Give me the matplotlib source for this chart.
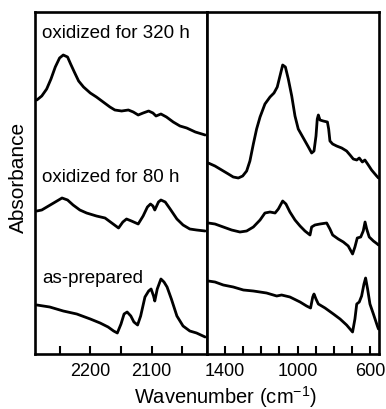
import matplotlib
matplotlib.use("Agg")
import matplotlib.pyplot as plt
from matplotlib.ticker import FixedLocator, NullFormatter

plt.rcParams['font.family'] = ['Liberation Sans', 'DejaVu Sans']
plt.rcParams['mathtext.fontset'] = 'custom'
plt.rcParams['mathtext.rm'] = 'Liberation Sans'
plt.rcParams['mathtext.it'] = 'Liberation Sans'

# Si-H stretching region (left panel), stacked absorbance (a.u.)
wn_hi_320 = [2287, 2279, 2271, 2264, 2257, 2250, 2244, 2237, 2232, 2226, 2219, 2211,
             2200, 2190, 2179, 2168, 2160, 2149, 2138, 2130, 2122, 2114, 2105, 2098,
             2093, 2085, 2076, 2065, 2054, 2043, 2029, 2013]
abs_hi_320 = [2.54, 2.58, 2.65, 2.75, 2.87, 2.96, 2.99, 2.97, 2.90, 2.82, 2.73, 2.67,
              2.61, 2.57, 2.52, 2.47, 2.44, 2.43, 2.44, 2.42, 2.39, 2.41, 2.43, 2.41,
              2.38, 2.40, 2.37, 2.32, 2.28, 2.26, 2.22, 2.19]

wn_hi_80 = [2287, 2279, 2268, 2257, 2246, 2237, 2228, 2217, 2206, 2190, 2176, 2165,
            2154, 2147, 2141, 2133, 2122, 2114, 2107, 2102, 2098, 2095, 2089, 2085,
            2078, 2070, 2059, 2049, 2038, 2027, 2013]
abs_hi_80 = [1.43, 1.44, 1.48, 1.52, 1.56, 1.54, 1.49, 1.44, 1.41, 1.38, 1.36, 1.31,
             1.26, 1.32, 1.35, 1.33, 1.30, 1.38, 1.47, 1.50, 1.48, 1.44, 1.52, 1.54,
             1.52, 1.45, 1.35, 1.29, 1.25, 1.24, 1.23]

wn_hi_0 = [2287, 2266, 2244, 2222, 2200, 2184, 2171, 2162, 2156, 2150, 2145, 2140,
           2134, 2129, 2123, 2118, 2111, 2105, 2101, 2097, 2095, 2091, 2085, 2080,
           2075, 2068, 2059, 2049, 2038, 2027, 2013]
abs_hi_0 = [0.49, 0.47, 0.43, 0.40, 0.35, 0.31, 0.27, 0.23, 0.21, 0.30, 0.40, 0.42,
            0.38, 0.32, 0.29, 0.38, 0.57, 0.63, 0.65, 0.58, 0.53, 0.65, 0.75, 0.72,
            0.67, 0.55, 0.38, 0.28, 0.23, 0.21, 0.17]

# fingerprint region (right panel)
wn_lo_320 = [1493, 1456, 1419, 1382, 1355, 1327, 1303, 1281, 1263, 1244, 1226, 1207,
             1180, 1152, 1130, 1112, 1097, 1082, 1067, 1051, 1032, 1014, 996, 968,
             940, 922, 909, 898, 891, 885, 876, 858, 835, 828, 821, 806, 784, 756,
             729, 710, 692, 673, 659, 642, 628, 609, 591, 563, 553]
abs_lo_320 = [1.91, 1.88, 1.84, 1.80, 1.77, 1.76, 1.78, 1.83, 1.93, 2.10, 2.25, 2.37,
              2.50, 2.57, 2.61, 2.67, 2.78, 2.89, 2.87, 2.75, 2.58, 2.38, 2.25, 2.16,
              2.07, 2.01, 2.03, 2.18, 2.35, 2.39, 2.34, 2.33, 2.32, 2.25, 2.13, 2.10,
              2.08, 2.06, 2.03, 1.99, 1.95, 1.94, 1.96, 1.92, 1.94, 1.89, 1.84, 1.78,
              1.76]

wn_lo_80 = [1493, 1456, 1410, 1364, 1318, 1281, 1244, 1207, 1180, 1152, 1124, 1106,
            1082, 1064, 1042, 1014, 986, 959, 931, 922, 904, 876, 839, 821, 806, 775,
            747, 720, 696, 683, 670, 651, 637, 627, 618, 604, 581, 559, 553]
abs_lo_80 = [1.31, 1.30, 1.27, 1.24, 1.22, 1.23, 1.27, 1.34, 1.41, 1.42, 1.41, 1.45,
             1.53, 1.50, 1.42, 1.34, 1.28, 1.23, 1.19, 1.27, 1.29, 1.30, 1.31, 1.25,
             1.19, 1.15, 1.12, 1.08, 1.00, 1.07, 1.16, 1.17, 1.23, 1.32, 1.25, 1.17,
             1.13, 1.10, 1.09]

wn_lo_0 = [1493, 1456, 1410, 1355, 1299, 1244, 1171, 1115, 1088, 1042, 986, 950,
           928, 916, 909, 898, 885, 848, 802, 765, 729, 696, 683, 673, 659, 646,
           633, 624, 613, 600, 581, 559, 553]
abs_lo_0 = [0.73, 0.72, 0.69, 0.67, 0.64, 0.63, 0.61, 0.58, 0.59, 0.57, 0.52, 0.48,
            0.46, 0.57, 0.60, 0.55, 0.50, 0.46, 0.40, 0.35, 0.29, 0.22, 0.35, 0.50,
            0.52, 0.58, 0.70, 0.76, 0.65, 0.50, 0.40, 0.28, 0.25]

labels = ['oxidized for 320 h', 'oxidized for 80 h', 'as-prepared']
label_y = [0.927, 0.506, 0.2105]

fig = plt.figure(figsize=(3.86, 4.10), dpi=100)
axL = fig.add_axes([35/386, 55/410, 172/386, 342/410])
axR = fig.add_axes([207/386, 55/410, 172/386, 342/410])

lw = 2.0
for x, y in [(wn_hi_320, abs_hi_320), (wn_hi_80, abs_hi_80), (wn_hi_0, abs_hi_0)]:
    axL.plot(x, y, color='black', lw=lw, solid_joinstyle='round', solid_capstyle='round')
for x, y in [(wn_lo_320, abs_lo_320), (wn_lo_80, abs_lo_80), (wn_lo_0, abs_lo_0)]:
    axR.plot(x, y, color='black', lw=lw, solid_joinstyle='round', solid_capstyle='round')

axL.set_xlim(2290, 2010)
axR.set_xlim(1500, 550)
for ax in (axL, axR):
    ax.set_ylim(0, 3.42)
    ax.set_yticks([])
    for s in ax.spines.values():
        s.set_linewidth(1.9)
    ax.tick_params(axis='x', which='both', direction='in', length=6, width=1.5,
                   labelsize=13, pad=6)

axL.xaxis.set_major_locator(FixedLocator([2200, 2100]))
axL.xaxis.set_minor_locator(FixedLocator([2250, 2150, 2050]))
axR.xaxis.set_major_locator(FixedLocator([1400, 1000, 600]))
axR.xaxis.set_minor_locator(FixedLocator([1300, 1200, 1100, 900, 800, 700]))
axL.xaxis.set_minor_formatter(NullFormatter())
axR.xaxis.set_minor_formatter(NullFormatter())

for txt, yy in zip(labels, label_y):
    axL.text(0.041, yy, txt, transform=axL.transAxes, fontsize=13.5,
             ha='left', va='baseline')

fig.text(225/386, 6/410, 'Wavenumber (cm$^{-1}$)', ha='center', va='baseline', fontsize=14.5)
fig.text(18/386, (410-177)/410, 'Absorbance', ha='center', va='center',
         rotation=90, fontsize=15)

fig.savefig('out.png', dpi=100)
